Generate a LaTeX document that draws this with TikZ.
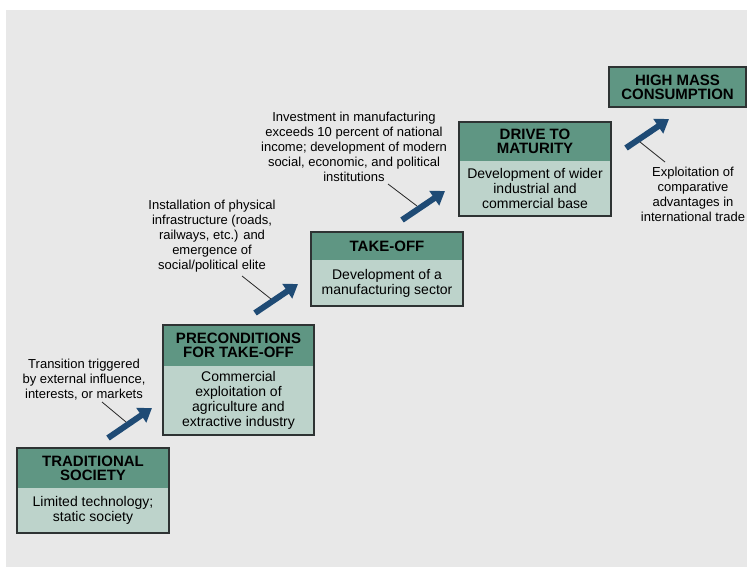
\documentclass[tikz,border=0pt]{standalone}
\usepackage{fontspec}
\setmainfont{Liberation Sans}
\usetikzlibrary{arrows.meta}
\definecolor{bg}{HTML}{E8E8E8}
\definecolor{hdrfill}{HTML}{5F9683}
\definecolor{bodyfill}{HTML}{BDD3CB}
\definecolor{arrowblue}{HTML}{1F4B75}
\definecolor{edgecol}{HTML}{2E3333}
\begin{document}
\begin{tikzpicture}[x=1pt,y=-1pt,
  hdr/.style={fill=hdrfill, inner sep=0pt, align=center, font=\fontsize{15}{14}\selectfont\bfseries, text=black},
  bdy/.style={fill=bodyfill, inner sep=0pt, align=center, font=\fontsize{14}{15}\selectfont},
  boxedge/.style={draw=edgecol, line width=1.6pt},
  note/.style={align=center, font=\fontsize{13}{15}\selectfont, inner sep=0pt},
  stagearrow/.style={line width=6pt, draw=arrowblue, -{Triangle[length=13pt,width=17pt]}},
  leader/.style={draw=black!85, line width=0.8pt}]
\useasboundingbox (0,0) rectangle (747,568);
\fill[bg] (6,10) rectangle (747,567);

% Box 1
\node[hdr, minimum width=152, minimum height=40] (h1) at (93,468) {TRADITIONAL\\SOCIETY};
\node[bdy, minimum width=152, minimum height=45] (b1) at (93,510.5) {Limited technology;\\static society};
\draw[boxedge] (h1.north west) rectangle (b1.south east);

% Box 2
\node[hdr, minimum width=151, minimum height=41] (h2) at (238.5,345.5) {PRECONDITIONS\\FOR TAKE-OFF};
\node[bdy, minimum width=151, minimum height=69] (b2) at (238.5,400.5) {Commercial\\exploitation of\\agriculture and\\extractive industry};
\draw[boxedge] (h2.north west) rectangle (b2.south east);

% Box 3
\node[hdr, minimum width=152, minimum height=28] (h3) at (387,246) {TAKE-OFF};
\node[bdy, minimum width=152, minimum height=46] (b3) at (387,283) {Development of a\\manufacturing sector};
\draw[boxedge] (h3.north west) rectangle (b3.south east);

% Box 4
\node[hdr, minimum width=152, minimum height=39] (h4) at (535,141.5) {DRIVE TO\\MATURITY};
\node[bdy, minimum width=152, minimum height=55] (b4) at (535,188.5) {Development of wider\\industrial and\\commercial base};
\draw[boxedge] (h4.north west) rectangle (b4.south east);

% Box 5
\node[hdr, minimum width=137, minimum height=40] (h5) at (677.5,87) {HIGH MASS\\CONSUMPTION};
\draw[boxedge] (h5.north west) rectangle (h5.south east);

% Notes
\node[note] (t1) at (84,380) {Transition triggered\\by external influence,\\interests, or markets};
\node[note] (t2) at (212,236.5) {Installation of physical\\infrastructure (roads,\\railways, etc.) and\\emergence of\\social/political elite};
\node[note] (t3) at (354,146.5) {Investment in manufacturing\\exceeds 10 percent of national\\income; development of modern\\social, economic, and political\\institutions};
\node[note] (t4) at (693,194.5) {Exploitation of\\comparative\\advantages in\\international trade};

% Arrows
\coordinate (a1s) at (108,438); \coordinate (a1e) at (152,408);
\coordinate (a2s) at (255,313); \coordinate (a2e) at (298,284);
\coordinate (a3s) at (402,220); \coordinate (a3e) at (445,191);
\coordinate (a4s) at (626,148); \coordinate (a4e) at (669,119);
\draw[stagearrow] (a1s) -- (a1e);
\draw[stagearrow] (a2s) -- (a2e);
\draw[stagearrow] (a3s) -- (a3e);
\draw[stagearrow] (a4s) -- (a4e);

% Leaders
\coordinate (l1s) at (102,402); \coordinate (l1e) at (126,422);
\coordinate (l2s) at (242,276); \coordinate (l2e) at (271,299);
\coordinate (l3s) at (388,184); \coordinate (l3e) at (417,206);
\coordinate (l4s) at (640,142); \coordinate (l4e) at (665,162);
\draw[leader] (l1s) -- (l1e);
\draw[leader] (l2s) -- (l2e);
\draw[leader] (l3s) -- (l3e);
\draw[leader] (l4s) -- (l4e);
\end{tikzpicture}
\end{document}
